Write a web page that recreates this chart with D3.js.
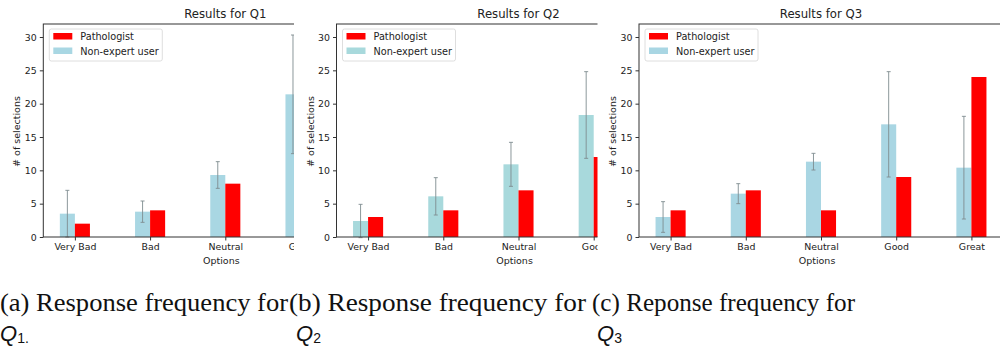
<!DOCTYPE html>
<html>
<head>
<meta charset="utf-8">
<script src="https://cdn.jsdelivr.net/npm/d3@7"></script>
<style>
  html, body { margin: 0; padding: 0; background: #fff; }
  svg { display: block; }
</style>
</head>
<body>
<svg id="chart" width="1000" height="351"></svg>
<script>
// ---- data ----
const categories = ["Very Bad", "Bad", "Neutral", "Good", "Great"];
const seriesNames = ["Pathologist", "Non-expert user"];
const yTicks = [0, 5, 10, 15, 20, 25, 30];
const panelTitles = ["Results for Q1", "Results for Q2", "Results for Q3"];

const q1Pathologist = [2, 4, 8, 15, 19];
const q1NonExpert   = [3.5, 3.8, 9.3, 21.4, 9];
const q1NonExpertErr = [3.5, 1.6, 2.0, 8.9, 5];

const q2Pathologist = [3, 4, 7, 12, 22];
const q2NonExpert   = [2.4, 6.1, 10.9, 18.3, 10];
const q2NonExpertErr = [2.5, 2.8, 3.3, 6.5, 5];

const q3Pathologist = [4, 7, 4, 9, 24];
const q3NonExpert   = [3.0, 6.5, 11.3, 16.9, 10.4];
const q3NonExpertErr = [2.3, 1.5, 1.25, 7.9, 7.7];

const captions = ["(a) Response frequency for", "(b) Response frequency for", "(c) Reponse frequency for"];
const captionSubs = ["1", "2", "3"];

// ---- layout ----
const svg = d3.select("#chart");
const panels = [
  {path: q1Pathologist, non: q1NonExpert, err: q1NonExpertErr, left: 43.3, clip: [0, 294], blue: "#a9d7e3"},
  {path: q2Pathologist, non: q2NonExpert, err: q2NonExpertErr, left: 336.5, clip: [298, 597.5], blue: "#a8d9dc"},
  {path: q3Pathologist, non: q3NonExpert, err: q3NonExpertErr, left: 639, clip: [598, 1000], blue: "#a9d6e3"}
];
const axW = 364, axTop = 24, axBottom = 237;
const barW = 0.2;
const font = "DejaVu Sans, sans-serif";

const defs = svg.append("defs");

panels.forEach((p, i) => {
  defs.append("clipPath").attr("id", "clip" + i)
    .append("rect").attr("x", p.clip[0]).attr("y", 0)
    .attr("width", p.clip[1] - p.clip[0]).attr("height", 275);

  const g = svg.append("g").attr("clip-path", `url(#clip${i})`);

  const x = d3.scaleLinear().domain([-0.42, 4.42]).range([p.left, p.left + axW]);
  const y = d3.scaleLinear().domain([0, 31.95]).range([axBottom, axTop]);

  // non-expert bars
  g.append("g").selectAll("rect").data(p.non).join("rect")
    .attr("x", (d, k) => x(k - barW))
    .attr("width", x(barW) - x(0))
    .attr("y", d => y(d))
    .attr("height", d => y(0) - y(d))
    .attr("fill", p.blue);

  // error bars
  const eb = g.append("g").attr("stroke", "#7f8c90").attr("stroke-width", 0.9);
  p.non.forEach((d, k) => {
    const cx = x(k - barW / 2);
    const lo = Math.max(d - p.err[k], 0), hi = d + p.err[k];
    eb.append("line").attr("x1", cx).attr("x2", cx).attr("y1", y(lo)).attr("y2", y(hi));
    eb.append("line").attr("x1", cx - 2).attr("x2", cx + 2).attr("y1", y(hi)).attr("y2", y(hi));
    eb.append("line").attr("x1", cx - 2).attr("x2", cx + 2).attr("y1", y(d - p.err[k])).attr("y2", y(d - p.err[k]));
  });

  // pathologist bars
  g.append("g").selectAll("rect").data(p.path).join("rect")
    .attr("x", (d, k) => x(k))
    .attr("width", x(barW) - x(0))
    .attr("y", d => y(d))
    .attr("height", d => y(0) - y(d))
    .attr("fill", "#ff0000");

  // frame
  g.append("rect").attr("x", p.left).attr("y", axTop)
    .attr("width", axW).attr("height", axBottom - axTop)
    .attr("fill", "none").attr("stroke", "#333").attr("stroke-width", 1);

  // axes
  const ya = g.append("g").attr("transform", `translate(${p.left},0)`)
    .call(d3.axisLeft(y).tickValues(yTicks).tickSize(3.5).tickPadding(3));
  const xa = g.append("g").attr("transform", `translate(0,${axBottom})`)
    .call(d3.axisBottom(x).tickValues(d3.range(categories.length))
      .tickFormat(k => categories[k]).tickSize(3.5).tickPadding(3));
  [ya, xa].forEach(a => {
    a.select(".domain").remove();
    a.selectAll("line").attr("stroke", "#333");
    a.selectAll("text").attr("fill", "#222").style("font-family", font).style("font-size", "9.4px");
  });
  // drop tick labels that lie entirely outside this panel's visible region
  xa.selectAll(".tick").filter(k => x(k) - 15 > p.clip[1]).select("text").remove();

  // labels
  g.append("text").attr("x", p.left + axW / 2).attr("y", 18)
    .attr("text-anchor", "middle").style("font-family", font).style("font-size", "11.7px")
    .attr("fill", "#222").text(panelTitles[i]);
  g.append("text").attr("x", p.left + axW / 2 - 4).attr("y", 264)
    .attr("text-anchor", "middle").style("font-family", font).style("font-size", "9.5px")
    .attr("fill", "#222").text("Options");
  g.append("text").attr("transform", `translate(${p.left - 23},${(axTop + axBottom) / 2 + 1}) rotate(-90)`)
    .attr("text-anchor", "middle").style("font-family", font).style("font-size", "9.5px")
    .attr("fill", "#222").text("# of selections");

  // legend
  const lg = g.append("g").attr("transform", `translate(${p.left + 6},29)`);
  lg.append("rect").attr("width", 113).attr("height", 32).attr("rx", 2)
    .attr("fill", "#fff").attr("stroke", "#d6d6d6").attr("stroke-width", 0.8);
  const colors = ["#ff0000", p.blue];
  seriesNames.forEach((s, j) => {
    lg.append("rect").attr("x", 4).attr("y", 4 + j * 14.5).attr("width", 19).attr("height", 6.5).attr("fill", colors[j]);
    lg.append("text").attr("x", 31).attr("y", 11 + j * 14.5)
      .style("font-family", font).style("font-size", "9.7px").attr("fill", "#222").text(s);
  });
});

// captions
const capX = [0, 289, 592];
const capW = [288, 297, 263];
const subX = [0, 296, 597];
captions.forEach((c, i) => {
  svg.append("text").attr("x", capX[i]).attr("y", 311)
    .attr("textLength", capW[i]).attr("lengthAdjust", "spacingAndGlyphs")
    .style("font-family", "Liberation Serif, Times New Roman, serif").style("font-size", "25px")
    .attr("fill", "#111").text(c);
  const t = svg.append("text").attr("x", subX[i]).attr("y", 341)
    .style("font-family", "Liberation Sans, Arial, sans-serif").style("font-size", "22px")
    .style("font-style", "italic").attr("fill", "#111");
  t.append("tspan").text("Q");
  t.append("tspan").attr("dy", 2).style("font-size", "14px").style("font-style", "normal").text(captionSubs[i] + (i === 0 ? "." : ""));
});
</script>
</body>
</html>
